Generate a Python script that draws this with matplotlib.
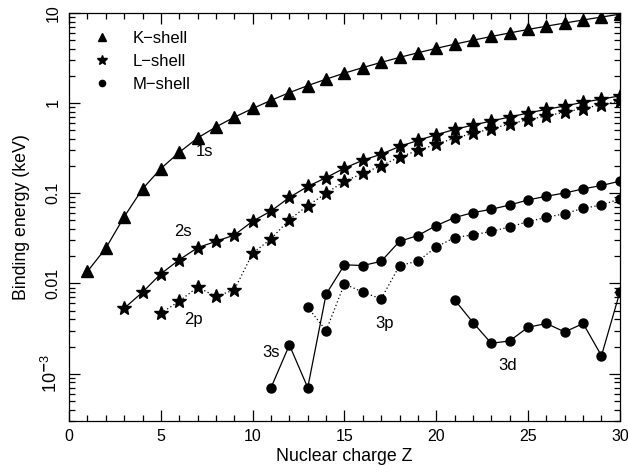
import numpy as np
import matplotlib.pyplot as plt
from matplotlib.ticker import FixedLocator, FixedFormatter, MultipleLocator, LogLocator, NullFormatter

plt.rcParams['font.family'] = ['Liberation Sans', 'DejaVu Sans']
plt.rcParams['mathtext.fontset'] = 'custom'
plt.rcParams['mathtext.rm'] = 'Liberation Sans'

# binding energies in keV versus nuclear charge Z
z_k = np.arange(1, 31)
e_1s = [0.0136, 0.0246, 0.0548, 0.1117, 0.188, 0.284, 0.410, 0.543, 0.697, 0.870,
        1.071, 1.305, 1.560, 1.839, 2.146, 2.472, 2.822, 3.206, 3.608, 4.038,
        4.492, 4.966, 5.465, 5.989, 6.539, 7.112, 7.709, 8.333, 8.979, 9.659]

z_2s = np.arange(3, 31)
e_2s = [0.0053, 0.0080, 0.0128, 0.0183, 0.0249, 0.0293, 0.0344, 0.0490,
        0.0635, 0.0900, 0.1190, 0.149, 0.190, 0.232, 0.271, 0.330, 0.385, 0.445,
        0.510, 0.570, 0.632, 0.700, 0.775, 0.852, 0.927, 1.020, 1.105, 1.200]

z_2p = np.arange(5, 31)
e_2p = [0.00468, 0.00636, 0.0091, 0.00717, 0.0085, 0.0217, 0.0312, 0.0510,
        0.0729, 0.0998, 0.136, 0.166, 0.202, 0.252, 0.298, 0.350, 0.408, 0.460,
        0.521, 0.584, 0.655, 0.718, 0.794, 0.868, 0.960, 1.05]

z_3s = np.arange(11, 31)
e_3s = [0.0007, 0.00208, 0.0007, 0.0076, 0.0161, 0.0158, 0.0176, 0.0293,
        0.0340, 0.0438, 0.0537, 0.0610, 0.0664, 0.0741, 0.0843, 0.0927,
        0.1007, 0.1117, 0.1220, 0.136]

z_3p = np.arange(13, 31)
e_3p = [0.00546, 0.0030, 0.0099, 0.0080, 0.00676, 0.0158, 0.0177, 0.0253,
        0.0323, 0.0346, 0.0378, 0.0423, 0.0485, 0.0541, 0.0594, 0.0681,
        0.0741, 0.0865]

z_3d = np.arange(21, 31)
e_3d = [0.00659, 0.00369, 0.00217, 0.00231, 0.00327, 0.0036, 0.0029,
        0.0036, 0.00158, 0.0080]

orbital_labels = ['1s', '2s', '2p', '3s', '3p', '3d']
label_x = [7.4, 6.2, 6.8, 11.0, 17.2, 23.9]
label_y = [0.29, 0.038, 0.0040, 0.0017, 0.0036, 0.00123]

fig = plt.figure(figsize=(6.28, 4.75), dpi=100)
ax = fig.add_axes([0.110, 0.114, 0.877, 0.859])

lw = 0.9
ax.plot(z_k, e_1s, 'k-', lw=lw, marker='^', ms=8.5)
ax.plot(z_2s, e_2s, 'k-', lw=lw, marker='*', ms=10.5)
ax.plot(z_2p, e_2p, 'k', ls=(0, (1, 2)), lw=lw, marker='*', ms=10.5)
ax.plot(z_3s, e_3s, 'k-', lw=lw, marker='o', ms=6.5)
ax.plot(z_3p, e_3p, 'k', ls=(0, (1, 2)), lw=lw, marker='o', ms=6.5)
ax.plot(z_3d, e_3d, 'k-', lw=lw, marker='o', ms=6.5)

for s, x, y in zip(orbital_labels, label_x, label_y):
    ax.text(x, y, s, fontsize=12, ha='center', va='center')

# legend: small markers only
h_k, = ax.plot([], [], 'k^', ms=6, ls='none')
h_l, = ax.plot([], [], 'k*', ms=7.5, ls='none')
h_m, = ax.plot([], [], 'ko', ms=4.5, ls='none')
ax.legend([h_k, h_l, h_m], ['K\u2212shell', 'L\u2212shell', 'M\u2212shell'],
          loc='upper left', frameon=False, fontsize=12, handlelength=1.0,
          handletextpad=1.3, labelspacing=0.47, borderaxespad=0,
          bbox_to_anchor=(0.033, 0.971))

ax.set_yscale('log')
ax.set_xlim(0, 30)
ax.set_ylim(3e-4, 10)

ax.xaxis.set_major_locator(MultipleLocator(5))
ax.xaxis.set_minor_locator(MultipleLocator(1))
ax.yaxis.set_major_locator(FixedLocator([1e-3, 1e-2, 1e-1, 1, 10]))
ax.yaxis.set_major_formatter(FixedFormatter([r'$10^{\mathbf{-}3}$', '0.01', '0.1', '1', '10']))
ax.yaxis.set_minor_locator(LogLocator(base=10, subs=np.arange(2, 10)))
ax.yaxis.set_minor_formatter(NullFormatter())

ax.tick_params(which='both', direction='in', top=True, right=True, width=0.9)
ax.tick_params(which='major', length=8, labelsize=11.5)
ax.tick_params(axis='x', which='major', pad=6)
ax.tick_params(axis='y', which='major', pad=6)
ax.tick_params(which='minor', length=4)
for lab in ax.get_yticklabels():
    lab.set_rotation(90)
    lab.set_va('center')
ax.get_yticklabels()[0].set_fontsize(13)
for sp in ax.spines.values():
    sp.set_linewidth(0.9)

ax.set_xlabel('Nuclear charge Z', fontsize=12.8, labelpad=3)
ax.set_ylabel('Binding energy (keV)', fontsize=12.8, labelpad=8)

fig.savefig('out.png', dpi=100)
